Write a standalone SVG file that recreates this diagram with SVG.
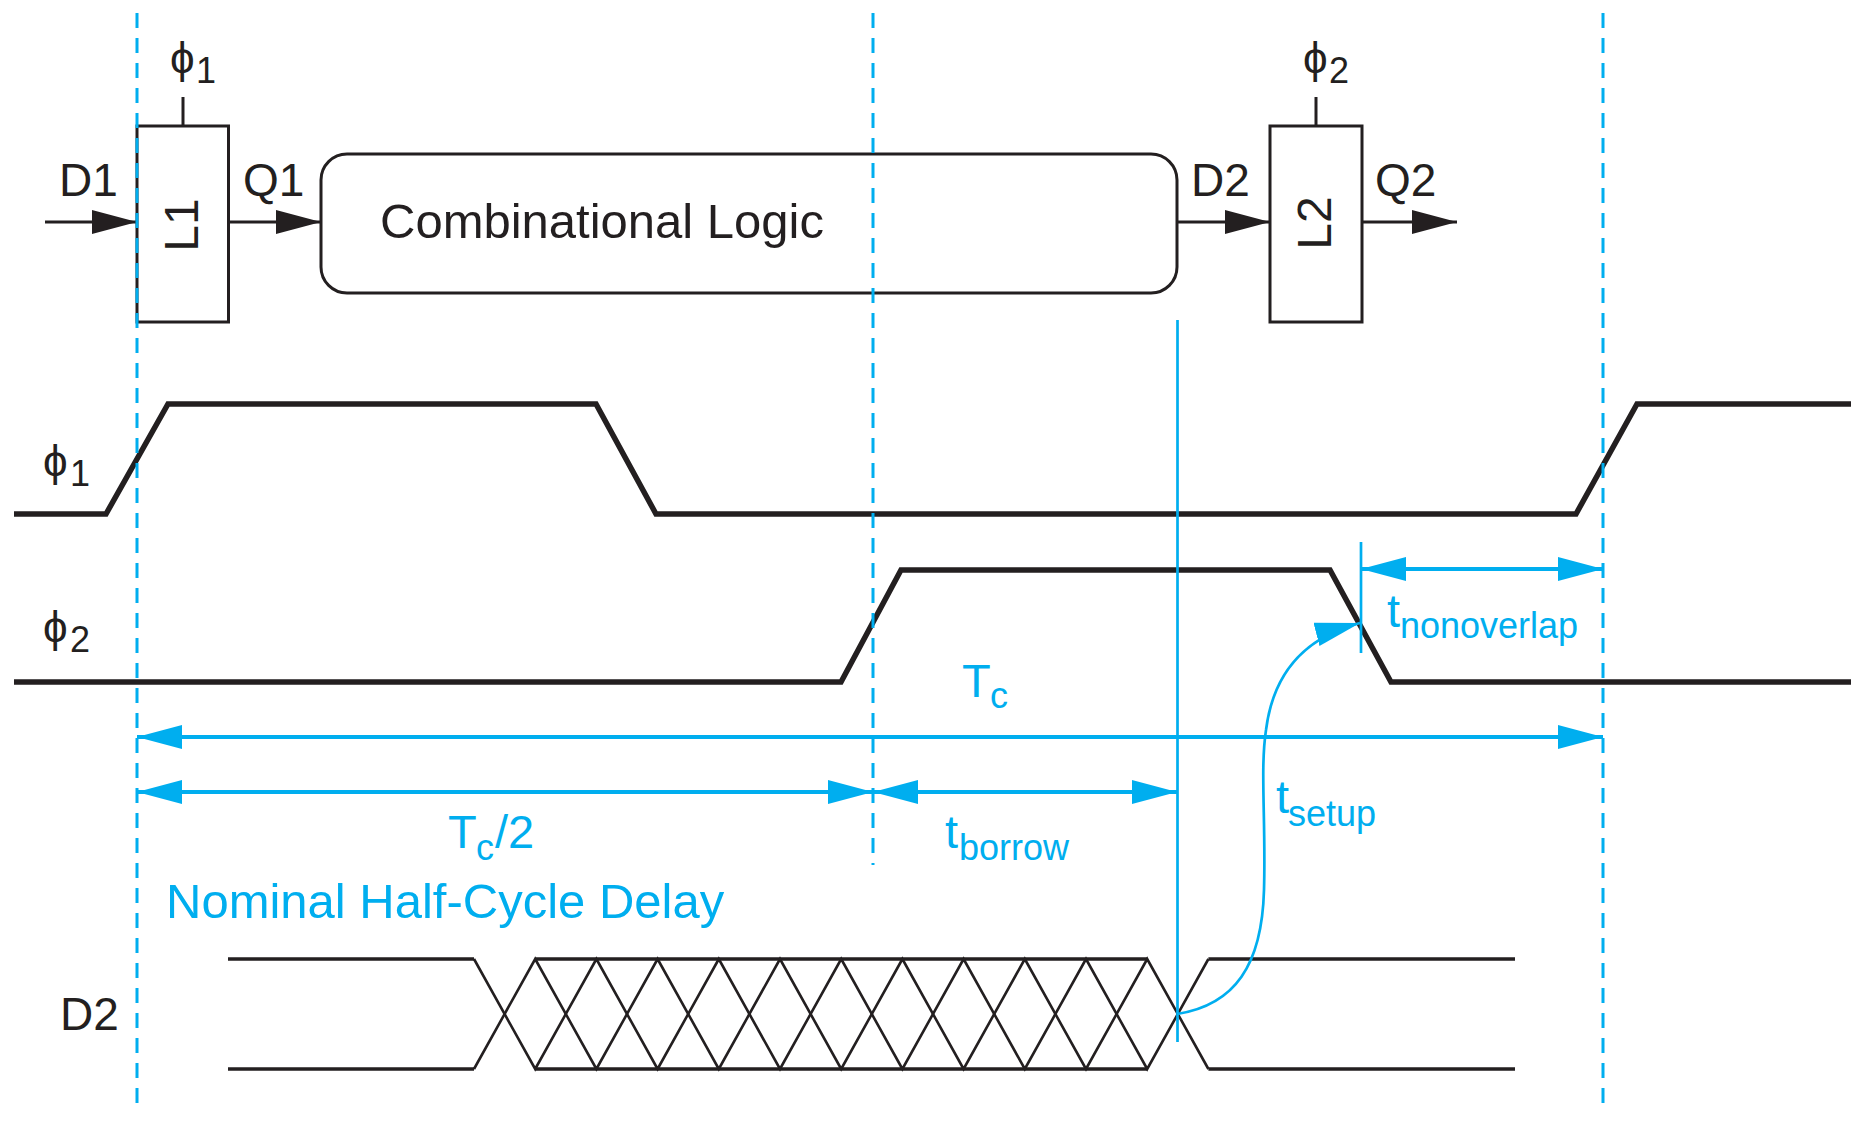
<svg xmlns="http://www.w3.org/2000/svg" width="1857" height="1128" viewBox="0 0 1857 1128">
<defs>
<style>
.k{fill:none;stroke:#231f20;stroke-width:3}
.wave{fill:none;stroke:#231f20;stroke-width:5.5;stroke-linejoin:miter}
.d2{fill:none;stroke:#231f20;stroke-width:3.5}
.hatch{fill:none;stroke:#231f20;stroke-width:2.6;stroke-linejoin:miter}
.dash{fill:none;stroke:#00aeef;stroke-width:3;stroke-dasharray:15 10}
.bl{fill:none;stroke:#00aeef;stroke-width:4}
.bt{fill:none;stroke:#00aeef;stroke-width:2.7}
.lab{font-family:"Liberation Sans",Arial,sans-serif;fill:#231f20;font-size:46px}
.blab{font-family:"Liberation Sans",Arial,sans-serif;fill:#00aeef;font-size:47px}
.phi{font-family:"Liberation Sans","DejaVu Sans",sans-serif;fill:#231f20;font-size:44px}
.sub{font-size:36px}
</style>
<marker id="ak" markerUnits="userSpaceOnUse" markerWidth="46" markerHeight="24" refX="45" refY="12" orient="auto"><path d="M0,0 L45,12 L0,24 z" fill="#231f20"/></marker>
<marker id="ab" markerUnits="userSpaceOnUse" markerWidth="46" markerHeight="24" refX="45" refY="12" orient="auto-start-reverse"><path d="M0,0 L45,12 L0,24 z" fill="#00aeef"/></marker>
</defs>
<rect width="1857" height="1128" fill="#ffffff"/>

<g id="latch-L1">
<rect class="k" x="137" y="126" width="91.5" height="196"/>
<line class="k" x1="183" y1="97" x2="183" y2="126"/>
<text class="lab" transform="translate(198,225) rotate(-90)" text-anchor="middle" style="font-size:48px">L1</text>
<text class="phi" x="170" y="73">ϕ<tspan class="sub" x="196" y="83">1</tspan></text>
</g>

<g id="combinational-logic">
<rect class="k" x="321" y="154" width="856" height="139" rx="26" ry="26"/>
<text class="lab" x="380" y="238" style="font-size:49px">Combinational Logic</text>
</g>

<g id="latch-L2">
<rect class="k" x="1270" y="126" width="92" height="196"/>
<line class="k" x1="1316" y1="97" x2="1316" y2="126"/>
<text class="lab" transform="translate(1331,223) rotate(-90)" text-anchor="middle" style="font-size:48px">L2</text>
<text class="phi" x="1303" y="73">ϕ<tspan class="sub" x="1329" y="83">2</tspan></text>
</g>

<g id="connectors">
<line class="k" x1="45" y1="222" x2="137" y2="222" marker-end="url(#ak)"/>
<line class="k" x1="228.5" y1="222" x2="321" y2="222" marker-end="url(#ak)"/>
<line class="k" x1="1177" y1="222" x2="1270" y2="222" marker-end="url(#ak)"/>
<line class="k" x1="1362" y1="222" x2="1457" y2="222" marker-end="url(#ak)"/>
</g>

<g id="signal-labels">
<text class="lab" x="59" y="196">D1</text>
<text class="lab" x="243" y="196">Q1</text>
<text class="lab" x="1191" y="196">D2</text>
<text class="lab" x="1375" y="196">Q2</text>
</g>

<g id="waveforms">
<polyline class="wave" points="14,514 106,514 168,404 596,404 656,514 1576,514 1637,404 1851,404"/>
<polyline class="wave" points="14,682 841,682 901,570 1330,570 1391,682 1851,682"/>
<text class="phi" x="43" y="476">ϕ<tspan class="sub" x="70" y="486">1</tspan></text>
<text class="phi" x="43" y="642">ϕ<tspan class="sub" x="70" y="652">2</tspan></text>
<path class="d2" d="M228,959 H474 M535.2,959 H1147.2 M1208.4,959 H1515 M228,1069 H474 M535.2,1069 H1147.2 M1208.4,1069 H1515"/>
<polyline class="hatch" points="474,959 535.2,1069 596.4,959 657.6,1069 718.8,959 780,1069 841.2,959 902.4,1069 963.6,959 1024.8,1069 1086,959 1147.2,1069 1208.4,959"/>
<polyline class="hatch" points="474,1069 535.2,959 596.4,1069 657.6,959 718.8,1069 780,959 841.2,1069 902.4,959 963.6,1069 1024.8,959 1086,1069 1147.2,959 1208.4,1069"/>
<text class="lab" x="60" y="1030">D2</text>
</g>

<g id="timing-annotations">
<line class="dash" x1="137" y1="13" x2="137" y2="1107"/>
<line class="dash" x1="873" y1="13" x2="873" y2="865"/>
<line class="dash" x1="1603" y1="13" x2="1603" y2="1107"/>
<line class="bt" x1="1177.5" y1="320" x2="1177.5" y2="1042"/>
<line class="bt" x1="1361" y1="542" x2="1361" y2="653"/>
<line class="bl" x1="137" y1="737" x2="1603" y2="737" marker-start="url(#ab)" marker-end="url(#ab)"/>
<line class="bl" x1="137" y1="792" x2="873" y2="792" marker-start="url(#ab)" marker-end="url(#ab)"/>
<line class="bl" x1="873" y1="792" x2="1177" y2="792" marker-start="url(#ab)" marker-end="url(#ab)"/>
<line class="bl" x1="1361" y1="569" x2="1603" y2="569" marker-start="url(#ab)" marker-end="url(#ab)"/>
<path class="bt" d="M1177,1014 C1235,1005 1262,965 1264,890 C1266,820 1260,770 1266,730 C1273,675 1302,638 1360,623" marker-end="url(#ab)"/>
<text class="blab" x="962" y="697">T<tspan class="sub" x="990" y="708">c</tspan></text>
<text class="blab" x="448" y="848">T<tspan class="sub" x="476" y="860">c</tspan><tspan x="495" y="848">/2</tspan></text>
<text class="blab" x="945" y="848">t<tspan class="sub" x="959" y="860">borrow</tspan></text>
<text class="blab" x="1276" y="813">t<tspan class="sub" x="1288" y="826">setup</tspan></text>
<text class="blab" x="1387" y="627">t<tspan class="sub" x="1400" y="638">nonoverlap</tspan></text>
<text class="blab" x="166" y="918" style="font-size:49px">Nominal Half-Cycle Delay</text>
</g>
</svg>
